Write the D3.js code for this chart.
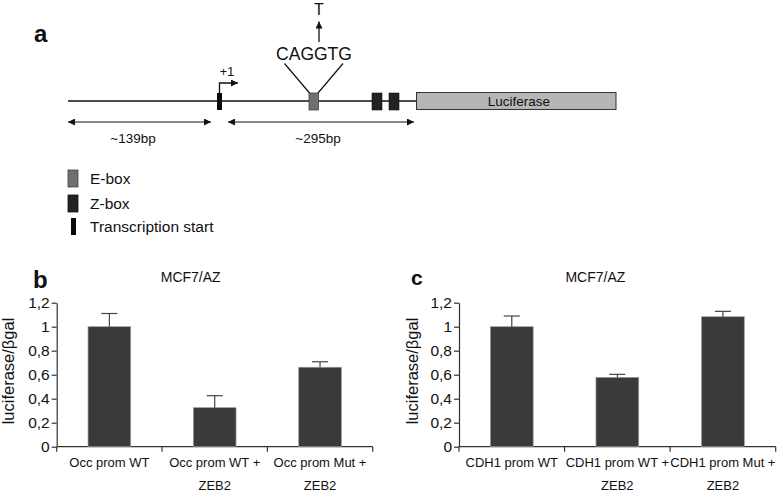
<!DOCTYPE html>
<html>
<head>
<meta charset="utf-8">
<script src="https://cdn.jsdelivr.net/npm/d3@7"></script>
<style>
  html, body { margin: 0; padding: 0; background: #fff; }
  svg { display: block; }
  text { font-family: "Liberation Sans", Arial, Helvetica, sans-serif; fill: #111; }
</style>
</head>
<body>
<svg id="chart" width="777" height="492"></svg>
<script>
// ---------------- data ----------------
const categoriesB = [["Occ prom WT"], ["Occ prom WT +", "ZEB2"], ["Occ prom Mut +", "ZEB2"]];
const valuesB = [1.0, 0.325, 0.662];
const errorsB = [0.11, 0.10, 0.046];

const categoriesC = [["CDH1 prom WT"], ["CDH1 prom WT +", "ZEB2"], ["CDH1 prom Mut +", "ZEB2"]];
const valuesC = [1.0, 0.578, 1.083];
const errorsC = [0.089, 0.025, 0.045];

const yTicks = [0, 0.2, 0.4, 0.6, 0.8, 1, 1.2];
const yTickLabels = ["0", "0,2", "0,4", "0,6", "0,8", "1", "1,2"];

const panelTitle = "MCF7/AZ";
const yLabel = "luciferase/\u03b2gal";
const legendItems = ["E-box", "Z-box", "Transcription start"];
const sizeLabels = ["~139bp", "~295bp"];

// ---------------- drawing ----------------
const svg = d3.select("#chart");
const FONT = '"Liberation Sans", Arial, Helvetica, sans-serif';

// arrow markers
const defs = svg.append("defs");
defs.append("marker").attr("id", "ah").attr("viewBox", "0 0 10 10")
  .attr("refX", 10).attr("refY", 5).attr("markerWidth", 7).attr("markerHeight", 7)
  .attr("markerUnits", "userSpaceOnUse").attr("orient", "auto-start-reverse")
  .append("path").attr("d", "M0,0 L10,5 L0,10 z").attr("fill", "#111");

// ===== Panel a =====
const a = svg.append("g");
a.append("text").attr("x", 34).attr("y", 42).attr("font-size", 24).attr("font-weight", "bold").text("a");

const lineY = 101;
// main line
a.append("line").attr("x1", 68).attr("x2", 416).attr("y1", lineY).attr("y2", lineY)
  .attr("stroke", "#111").attr("stroke-width", 1.3);

// transcription start
a.append("rect").attr("x", 217).attr("y", 93).attr("width", 5).attr("height", 17).attr("fill", "#0a0a0a");
a.append("path").attr("d", "M219.5,93 L219.5,83 L238,83").attr("fill", "none")
  .attr("stroke", "#111").attr("stroke-width", 1.3).attr("marker-end", "url(#ah)");
a.append("text").attr("x", 227).attr("y", 76).attr("font-size", 12.5).attr("text-anchor", "middle").text("+1");

// E-box
a.append("rect").attr("x", 309).attr("y", 93).attr("width", 9.5).attr("height", 17)
  .attr("fill", "#707070").attr("stroke", "#444").attr("stroke-width", 0.8);
a.append("line").attr("x1", 284.5).attr("y1", 63.5).attr("x2", 309.5).attr("y2", 93).attr("stroke", "#111").attr("stroke-width", 1.2);
a.append("line").attr("x1", 343).attr("y1", 63.5).attr("x2", 318).attr("y2", 93).attr("stroke", "#111").attr("stroke-width", 1.2);
a.append("text").attr("x", 314).attr("y", 60).attr("font-size", 17.5).attr("text-anchor", "middle").text("CAGGTG");
a.append("line").attr("x1", 319).attr("y1", 42).attr("x2", 319).attr("y2", 21.5)
  .attr("stroke", "#111").attr("stroke-width", 1.3).attr("marker-end", "url(#ah)");
a.append("text").attr("x", 319).attr("y", 15).attr("font-size", 16).attr("text-anchor", "middle").attr("fill", "#000").text("T");

// Z-boxes
[372, 389].forEach(x => {
  a.append("rect").attr("x", x).attr("y", 93).attr("width", 10).attr("height", 17)
    .attr("fill", "#222").attr("stroke", "#111").attr("stroke-width", 0.6);
});

// Luciferase box
a.append("rect").attr("x", 416.5).attr("y", 92.5).attr("width", 199.5).attr("height", 17)
  .attr("fill", "#b6b6b6").attr("stroke", "#333").attr("stroke-width", 1);
a.append("text").attr("x", 519).attr("y", 106).attr("font-size", 13.5).attr("text-anchor", "middle").text("Luciferase");

// double arrows
a.append("line").attr("x1", 68).attr("x2", 211).attr("y1", 122).attr("y2", 122)
  .attr("stroke", "#111").attr("stroke-width", 1.2)
  .attr("marker-start", "url(#ah)").attr("marker-end", "url(#ah)");
a.append("line").attr("x1", 228).attr("x2", 414).attr("y1", 122).attr("y2", 122)
  .attr("stroke", "#111").attr("stroke-width", 1.2)
  .attr("marker-start", "url(#ah)").attr("marker-end", "url(#ah)");
a.append("text").attr("x", 133).attr("y", 143).attr("font-size", 13.5).attr("text-anchor", "middle").text(sizeLabels[0]);
a.append("text").attr("x", 318).attr("y", 143).attr("font-size", 13.5).attr("text-anchor", "middle").text(sizeLabels[1]);

// legend
const legendStyles = [
  {fill: "#707070", stroke: "#444", x: 68, w: 10, y: 170},
  {fill: "#222", stroke: "#111", x: 68, w: 10, y: 195},
  {fill: "#0a0a0a", stroke: "none", x: 71, w: 5, y: 218}
];
legendItems.forEach((t, i) => {
  const s = legendStyles[i];
  a.append("rect").attr("x", s.x).attr("y", s.y).attr("width", s.w).attr("height", 17)
    .attr("fill", s.fill).attr("stroke", s.stroke).attr("stroke-width", 0.8);
  a.append("text").attr("x", 90).attr("y", s.y + 14).attr("font-size", 15.5).text(t);
});

// ===== Bar panels =====
function barPanel(opts) {
  const g = svg.append("g");
  const y = d3.scaleLinear().domain([0, 1.2]).range([446.7, 302.7]);
  const cats = opts.categories.map(c => c.join(" "));
  const x = d3.scaleBand().domain(cats).range([opts.x0, opts.x1]).padding(0);

  g.append("text").attr("x", opts.letterX).attr("y", opts.letterY).attr("font-size", opts.letterSize)
    .attr("font-weight", "bold").text(opts.letter);
  g.append("text").attr("x", (opts.x0 + opts.x1) / 2 + opts.titleDx).attr("y", 282)
    .attr("font-size", 14).attr("text-anchor", "middle").text(panelTitle);

  // y axis
  const yAxis = d3.axisLeft(y).tickValues(yTicks).tickSize(5).tickSizeOuter(0)
    .tickFormat((d, i) => yTickLabels[i]);
  const ya = g.append("g").attr("transform", `translate(${opts.x0},0)`).call(yAxis);
  ya.select(".domain").attr("stroke", "#333").attr("stroke-width", 1.2);
  ya.selectAll(".tick line").attr("stroke", "#333").attr("stroke-width", 1.2);
  ya.selectAll(".tick text").attr("font-size", 15.5).attr("font-family", FONT).attr("fill", "#111").attr("x", -7);

  g.append("text").attr("transform", `translate(${opts.ylabX},371) rotate(-90)`)
    .attr("font-size", 16.5).attr("text-anchor", "middle").text(yLabel);

  // x axis line and band-edge ticks
  g.append("line").attr("x1", opts.x0).attr("x2", opts.x1).attr("y1", y(0)).attr("y2", y(0))
    .attr("stroke", "#333").attr("stroke-width", 1.2);
  const edges = cats.map(c => x(c)).concat([x(cats[cats.length - 1]) + x.bandwidth()]);
  g.selectAll(".xt").data(edges).enter().append("line")
    .attr("x1", d => d).attr("x2", d => d).attr("y1", y(0)).attr("y2", y(0) + 5)
    .attr("stroke", "#333").attr("stroke-width", 1.2);

  const bw = x.bandwidth() * 0.405;
  const vals = opts.values;
  // bars
  g.selectAll(".bar").data(cats).enter().append("rect")
    .attr("x", c => x(c) + x.bandwidth() / 2 - bw / 2)
    .attr("y", (c, i) => y(vals[i]))
    .attr("width", bw)
    .attr("height", (c, i) => y(0) - y(vals[i]))
    .attr("fill", "#3a3a3a").attr("stroke", "#9a9a9a").attr("stroke-width", 0.7);
  // error bars (upper)
  cats.forEach((c, i) => {
    const cx = x(c) + x.bandwidth() / 2;
    const top = y(vals[i] + opts.errors[i]);
    g.append("line").attr("x1", cx).attr("x2", cx).attr("y1", y(vals[i])).attr("y2", top)
      .attr("stroke", "#444").attr("stroke-width", 1.2);
    g.append("line").attr("x1", cx - 8).attr("x2", cx + 8).attr("y1", top).attr("y2", top)
      .attr("stroke", "#444").attr("stroke-width", 1.2);
  });
  // category labels
  opts.categories.forEach((lines, i) => {
    const cx = x(cats[i]) + x.bandwidth() / 2;
    const t = g.append("text").attr("x", cx).attr("y", 467).attr("font-size", 13).attr("text-anchor", "middle");
    lines.forEach((ln, k) => {
      t.append("tspan").attr("x", cx).attr("dy", k === 0 ? 0 : 23).text(ln);
    });
  });
}

barPanel({categories: categoriesB, values: valuesB, errors: errorsB,
  x0: 56.7, x1: 372.7, letter: "b", letterX: 33, letterY: 288, letterSize: 24, titleDx: -24, ylabX: 13.5});
barPanel({categories: categoriesC, values: valuesC, errors: errorsC,
  x0: 459, x1: 775.7, letter: "c", letterX: 411, letterY: 285, letterSize: 21, titleDx: -22, ylabX: 417.5});
</script>
</body>
</html>
